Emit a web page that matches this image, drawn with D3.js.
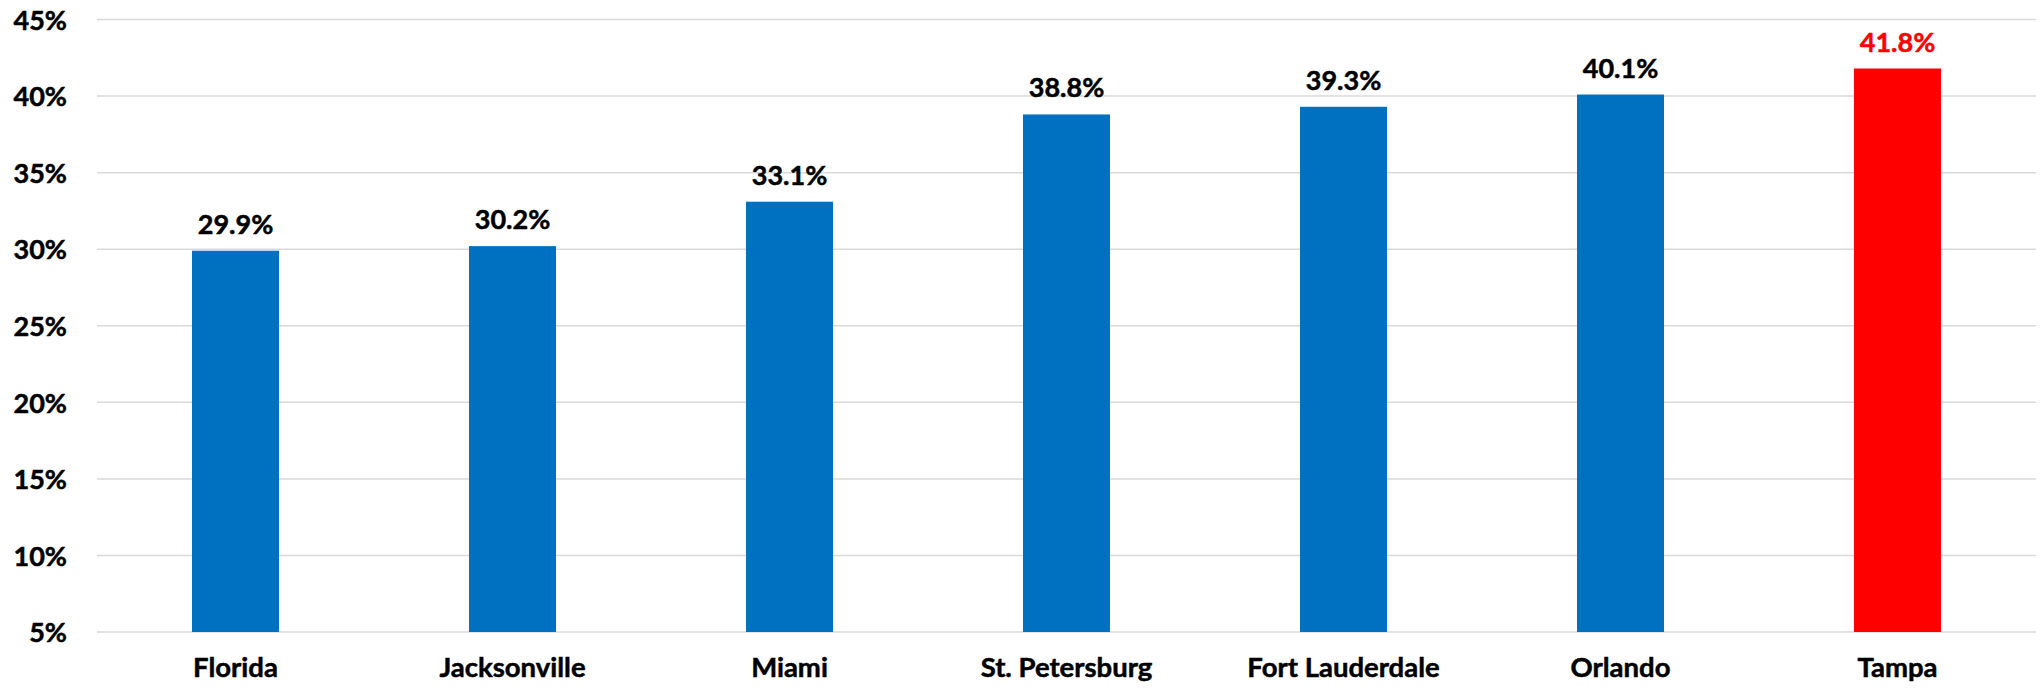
<!DOCTYPE html>
<html>
<head>
<meta charset="utf-8">
<script src="https://cdn.jsdelivr.net/npm/d3@7"></script>
<style>
    body { margin: 0; background: #fff; }
    text { font-family: Lato, "Open Sans", sans-serif; font-weight: bold; }
</style>
</head>
<body>
<div id="chart"></div>
<script>
var categories = ["Florida", "Jacksonville", "Miami", "St. Petersburg", "Fort Lauderdale", "Orlando", "Tampa"];
var values = [29.9, 30.2, 33.1, 38.8, 39.3, 40.1, 41.8];
var highlight = ["Tampa"];
var yTicks = [5, 10, 15, 20, 25, 30, 35, 40, 45];

var margin = { left: 97, right: 6, top: 19.5, bottom: 58 };
var totalW = 2042, totalH = 690;
var width = totalW - margin.left - margin.right;
var height = totalH - margin.top - margin.bottom;

var svg = d3.select("#chart")
    .append("svg")
    .attr("width", totalW)
    .attr("height", totalH);
var g = svg.append("g")
    .attr("transform", "translate(" + margin.left + "," + margin.top + ")");

var x = d3.scaleBand()
    .domain(categories)
    .range([0, width])
    .paddingInner(0.686)
    .paddingOuter(0.343);

var y = d3.scaleLinear()
    .domain([5, 45])
    .range([height, 0]);

// gridlines
g.selectAll(".grid")
    .data(yTicks)
    .enter().append("line")
    .attr("class", "grid")
    .attr("x1", 0)
    .attr("x2", width)
    .attr("y1", d => y(d))
    .attr("y2", d => y(d))
    .attr("stroke", "#d9d9d9")
    .attr("stroke-width", 1.5);

// y axis labels
var yAxis = g.append("g")
    .call(d3.axisLeft(y).tickValues(yTicks).tickSize(0).tickPadding(30).tickFormat(d => d + "%"));
yAxis.select(".domain").remove();
yAxis.selectAll("text")
    .attr("font-size", "27px")
    .attr("fill", "#000")
    .attr("stroke", "#000")
    .attr("stroke-width", 0.5)
    .attr("dy", "0.36em");

// x axis labels
var xAxis = g.append("g")
    .attr("transform", "translate(0," + height + ")")
    .call(d3.axisBottom(x).tickSize(0).tickPadding(25));
xAxis.select(".domain").remove();
xAxis.selectAll("text")
    .attr("font-size", "27.5px")
    .attr("fill", "#000")
    .attr("stroke", "#000")
    .attr("stroke-width", 0.5);

var data = categories.map((c, i) => ({ name: c, value: values[i] }));
var color = d => highlight.indexOf(d.name) >= 0 ? "#ff0000" : "#0070c0";
var textColor = d => highlight.indexOf(d.name) >= 0 ? "#ff0000" : "#000";

g.selectAll(".bar")
    .data(data)
    .enter().append("rect")
    .attr("class", "bar")
    .attr("x", d => x(d.name))
    .attr("width", x.bandwidth())
    .attr("y", d => y(d.value))
    .attr("height", d => height - y(d.value))
    .attr("fill", color);

g.selectAll(".label")
    .data(data)
    .enter().append("text")
    .attr("class", "label")
    .attr("x", d => x(d.name) + x.bandwidth() / 2)
    .attr("y", d => y(d.value) - 17)
    .attr("text-anchor", "middle")
    .attr("font-size", "27px")
    .attr("fill", textColor)
    .attr("stroke", textColor)
    .attr("stroke-width", 0.5)
    .text(d => d.value.toFixed(1) + "%");
</script>
</body>
</html>
